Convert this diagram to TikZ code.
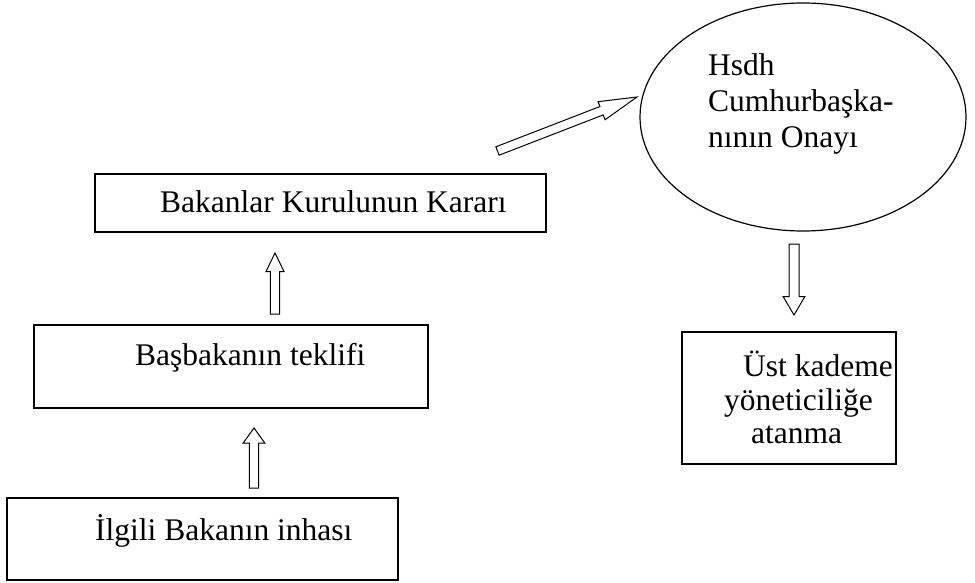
\documentclass[tikz,border=0pt]{standalone}
\usepackage{fontspec}
\setmainfont{Liberation Serif}
\usetikzlibrary{calc,shapes.geometric}
\tikzset{
  box/.style={draw, line width=1.2pt, rectangle, inner sep=0pt},
  oval/.style={draw, line width=1.2pt, ellipse, inner sep=0pt},
  txt/.style={inner sep=0pt, anchor=base west, font=\fontsize{31.5}{36}\selectfont},
  barrow/.style={draw, line width=1pt, line join=miter, fill=white}
}
\newcommand{\blockarrow}[5]{%
  \coordinate (bab) at ($(#2)!#3!(#1)$);
  \draw[barrow] ($(#1)!#4!90:(#2)$) -- ($(bab)!#4!90:(#2)$) -- ($(bab)!#5!90:(#2)$) -- (#2)
    -- ($(bab)!#5!-90:(#2)$) -- ($(bab)!#4!-90:(#2)$) -- ($(#1)!#4!-90:(#2)$) -- cycle;}
\begin{document}
\begin{tikzpicture}[x=1pt,y=-1pt]
\useasboundingbox[fill=white] (0,0) rectangle (975,583);

% boxes
\node[box, minimum width=451pt, minimum height=58pt] (bk) at (320.5,203) {};
\node[box, minimum width=394pt, minimum height=83pt] (bb) at (231,366.5) {};
\node[box, minimum width=391pt, minimum height=82pt] (il) at (202.5,539) {};
\node[box, minimum width=214pt, minimum height=132pt] (ust) at (789,398) {};
\node[oval, minimum width=326pt, minimum height=228pt] (onay) at (803,117) {};

% texts
\node[txt] (bkt) at (160,212) {Bakanlar Kurulunun Kararı};
\node[txt] (bbt) at (135,365) {Başbakanın teklifi};
\node[txt] (ilt) at (95,540) {İlgili Bakanın inhası};
\node[txt] (ust1) at (743,376) {Üst kademe};
\node[txt] (ust2) at (724,410) {yöneticiliğe};
\node[txt] (ust3) at (751,443) {atanma};
\node[txt] (on1) at (708,76) {Hsdh};
\node[txt] (on2) at (708,112) {Cumhurbaşka-};
\node[txt] (on3) at (708,148) {nının Onayı};

% block arrows
\coordinate (a1t) at (497.5,151); \coordinate (a1h) at (637,97);
\coordinate (a2t) at (275,314);   \coordinate (a2h) at (275,253);
\coordinate (a3t) at (254,488);   \coordinate (a3h) at (254,428);
\coordinate (a4t) at (794,244);   \coordinate (a4h) at (794,315);
\blockarrow{a1t}{a1h}{38pt}{4.5pt}{9.7pt}
\blockarrow{a2t}{a2h}{18.5pt}{4.6pt}{9pt}
\blockarrow{a3t}{a3h}{15pt}{4.7pt}{10.8pt}
\blockarrow{a4t}{a4h}{18.3pt}{5pt}{10.8pt}
\end{tikzpicture}
\end{document}
